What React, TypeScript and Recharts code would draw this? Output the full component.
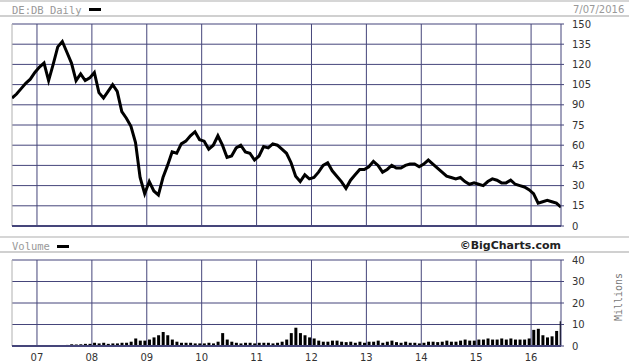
import React from "react";
import { Bar, BarChart, CartesianGrid, Line, LineChart, ReferenceLine, XAxis, YAxis } from "recharts";

// monthly samples, Jul 2006 .. Jul 2016
const startYear = 2006;
const startMonth = 6; // July, 0-based
const monthCount = 121;

const price = [
    95, 98, 102, 106, 109, 114, // 2006
    118, 121, 108, 120, 133, 137, 129, 121, 108, 113, 108, 110, // 2007
    114, 99, 95, 100, 105, 100, 85, 80, 74, 62, 36, 24, // 2008
    33, 26, 23, 36, 45, 55, 54, 61, 63, 67, 70, 64, // 2009
    63, 57, 60, 67, 60, 51, 52, 58, 60, 55, 54, 49, // 2010
    52, 59, 58, 61, 60, 57, 54, 47, 37, 33, 38, 35, // 2011
    36, 40, 45, 47, 41, 37, 33, 28, 34, 38, 42, 42, // 2012
    44, 48, 45, 40, 42, 45, 43, 43, 45, 46, 46, 44, // 2013
    46, 49, 46, 43, 40, 37, 36, 35, 36, 33, 31, 32, // 2014
    31, 30, 33, 35, 34, 32, 32, 34, 31, 30, 29, 27, // 2015
    24, 17, 18, 19, 18, 17, 14, // 2016
];

// millions
const volume = [
    0, 0, 0, 0, 0, 0,
    0, 0, 0, 0, 0, 0, 0.5, 0.8, 0.7, 0.8, 1, 1,
    1.5, 1.2, 1.5, 1, 1.2, 1.2, 1.5, 1.5, 2, 3.5, 2.5, 2.5,
    3, 4, 5, 6.5, 5, 3, 2, 1.5, 1.5, 1.5, 1.2, 1.2,
    1.2, 1.5, 1.2, 2, 6, 3, 2, 1.5, 1.2, 1.5, 1.5, 1.2,
    1.5, 1.5, 1.5, 1.2, 1.5, 2, 3, 6, 8.5, 6, 5, 4,
    3.5, 2.5, 2, 2, 2.5, 2.5, 2, 1.8, 2, 1.5, 2, 1.5,
    2, 2, 2.5, 1.5, 2, 2.5, 1.8, 1.5, 2, 1.5, 1.5, 1.2,
    1.5, 2, 2, 1.8, 2, 2.5, 2, 2, 2.5, 3, 2.5, 2.5,
    3, 3, 3.5, 3, 3, 3.5, 3, 3.5, 3, 3, 3, 3.5,
    7.5, 8, 5, 4, 4.5, 7, 11.5,
];

const yearTicks = [2007, 2008, 2009, 2010, 2011, 2012, 2013, 2014, 2015, 2016];
const priceTicks = [0, 15, 30, 45, 60, 75, 90, 105, 120, 135, 150];
const volumeTicks = [0, 10, 20, 30, 40];

const xDomain = [2006.545, 2016.545];

const data = Array.from({ length: monthCount }, (_, i) => {
    const m = startMonth + i;
    return {
        t: startYear + Math.floor(m / 12) + (m % 12) / 12 + 0.045,
        price: price[i],
        vol: volume[i],
    };
});

const grid = "#45457a";
const axisFont = { fontSize: 10, fill: "#333", fontFamily: "DejaVu Sans" };
const monoFont = "DejaVu Sans Mono";
const noTick = () => <g />;

const strip = (top: number): React.CSSProperties => ({
    position: "absolute",
    left: 0,
    top,
    width: 629,
    height: 13,
    borderTop: "2px solid #d6d6d6",
    borderBottom: "2px solid #d0d0d0",
});

export default function App() {
    return (
        <div style={{ position: "absolute", left: 0, top: 0, width: 629, height: 364, background: "#fff", overflow: "hidden" }}>
            <div style={strip(0)}>
                <span style={{ position: "absolute", left: 12, top: 2, fontFamily: monoFont, fontSize: 10.5, color: "#999" }}>DE:DB Daily</span>
                <span style={{ position: "absolute", left: 89, top: 6, width: 12, height: 3, background: "#000" }} />
                <span style={{ position: "absolute", left: 573, top: 2, fontFamily: "DejaVu Sans", fontSize: 10, color: "#999", whiteSpace: "nowrap" }}>7/07/2016</span>
            </div>

            <div style={{ position: "absolute", left: 0, top: 0 }}>
                <LineChart width={629} height={240} data={data} margin={{ top: 24, right: 8, bottom: 13, left: 12 }}>
                    <CartesianGrid stroke={grid} strokeWidth={1} verticalValues={yearTicks} horizontalValues={priceTicks} />
                    <XAxis
                        dataKey="t"
                        type="number"
                        domain={xDomain}
                        ticks={yearTicks}
                        interval={0}
                        allowDataOverflow
                        height={1}
                        tick={noTick}
                        tickLine={false}
                        axisLine={false}
                    />
                    <YAxis
                        orientation="right"
                        width={60}
                        domain={[0, 150]}
                        ticks={priceTicks}
                        interval={0}
                        tickSize={3}
                        tickMargin={8}
                        tick={axisFont}
                        stroke={grid}
                    />
                    <ReferenceLine x={xDomain[0]} stroke="#b0b0b0" />
                    <ReferenceLine y={0} stroke={grid} strokeWidth={2} />
                    <Line dataKey="price" stroke="#000" strokeWidth={3} dot={false} isAnimationActive={false} />
                </LineChart>
            </div>

            <div style={{ ...strip(236), height: 13 }}>
                <span style={{ position: "absolute", left: 12, top: 2, fontFamily: monoFont, fontSize: 10.5, color: "#999" }}>Volume</span>
                <span style={{ position: "absolute", left: 57, top: 7, width: 12, height: 3, background: "#000" }} />
                <span style={{ position: "absolute", right: 68, top: 1, fontFamily: "DejaVu Sans", fontWeight: "bold", fontSize: 11, color: "#222" }}>©BigCharts.com</span>
            </div>

            <div style={{ position: "absolute", left: 0, top: 250 }}>
                <BarChart width={629} height={114} data={data} margin={{ top: 10, right: 8, bottom: 0, left: 12 }}>
                    <CartesianGrid stroke={grid} strokeWidth={1} verticalValues={yearTicks} horizontalValues={volumeTicks} />
                    <XAxis
                        dataKey="t"
                        type="number"
                        domain={xDomain}
                        ticks={yearTicks}
                        interval={0}
                        allowDataOverflow
                        height={18}
                        tickLine={false}
                        axisLine={{ stroke: grid, strokeWidth: 2 }}
                        tick={axisFont}
                        tickFormatter={(v) => String(v).slice(2)}
                    />
                    <YAxis
                        orientation="right"
                        width={60}
                        domain={[0, 40]}
                        ticks={volumeTicks}
                        interval={0}
                        tickSize={3}
                        tickMargin={8}
                        tick={axisFont}
                        stroke={grid}
                    />
                    <ReferenceLine x={xDomain[0]} stroke="#b0b0b0" />
                    <Bar dataKey="vol" fill="#000" barSize={3} isAnimationActive={false} />
                </BarChart>
            </div>

            <svg width={629} height={364} style={{ position: "absolute", left: 0, top: 0, pointerEvents: "none" }}>
                <text
                    x={618}
                    y={297}
                    transform="rotate(-90 618 297)"
                    textAnchor="middle"
                    dominantBaseline="central"
                    fontFamily={monoFont}
                    fontSize={10}
                    fill="#777"
                >
                    Millions
                </text>
            </svg>
        </div>
    );
}
